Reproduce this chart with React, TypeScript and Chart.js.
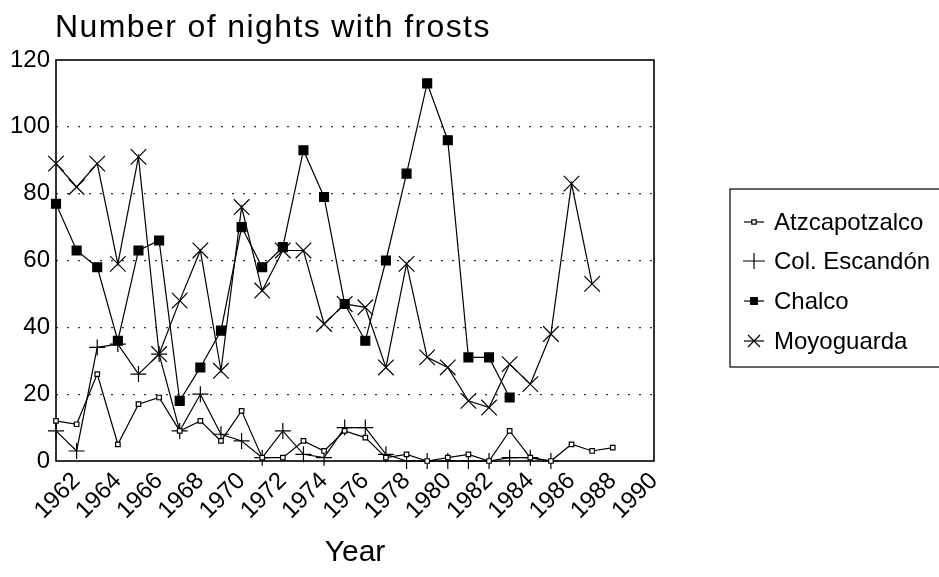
import { useEffect, useRef } from 'react';
import { Chart, registerables } from 'chart.js';

Chart.register(...registerables);

// ---- Data ----
const years = [
  1961, 1962, 1963, 1964, 1965, 1966, 1967, 1968, 1969, 1970,
  1971, 1972, 1973, 1974, 1975, 1976, 1977, 1978, 1979, 1980,
  1981, 1982, 1983, 1984, 1985, 1986, 1987, 1988,
];
const atzcapotzalco = [
  12, 11, 26, 5, 17, 19, 9, 12, 6, 15,
  1, 1, 6, 3, 9, 7, 1, 2, 0, 1,
  2, 0, 9, 1, 0, 5, 3, 4,
];
const colEscandon = [
  9, 3, 34, 35, 26, 32, 9, 20, 8, 6,
  1, 9, 2, 1, 10, 10, 2, 0, 0, 0,
  0, 0, 1, 1, 0, null, null, null,
];
const chalco = [
  77, 63, 58, 36, 63, 66, 18, 28, 39, 70,
  58, 64, 93, 79, 47, 36, 60, 86, 113, 96,
  31, 31, 19, null, null, null, null, null,
];
const moyoguarda = [
  89, 82, 89, 59, 91, 32, 48, 63, 27, 76,
  51, 63, 63, 41, 47, 46, 28, 59, 31, 28,
  18, 16, 29, 23, 38, 83, 53, null,
];
const seriesNames = ['Atzcapotzalco', 'Col. Escandón', 'Chalco', 'Moyoguarda'];
const xTickYears = [1962, 1964, 1966, 1968, 1970, 1972, 1974, 1976, 1978, 1980, 1982, 1984, 1986, 1988, 1990];
const yTickValues = [0, 20, 40, 60, 80, 100, 120];
const titleText = 'Number of nights with frosts';
const xAxisTitle = 'Year';

const FONT = "'Liberation Sans', Arial, Helvetica, sans-serif";

function toPoints(values: (number | null)[]) {
  const pts: { x: number; y: number }[] = [];
  years.forEach((yr, i) => {
    const v = values[i];
    if (v !== null && v !== undefined) pts.push({ x: yr, y: v });
  });
  return pts;
}

function drawMarker(ctx: CanvasRenderingContext2D, style: string, x: number, y: number, rx: number, ry: number, fill: string) {
  ctx.save();
  ctx.strokeStyle = '#000';
  ctx.lineWidth = 1.2;
  ctx.beginPath();
  if (style === 'rect') {
    ctx.fillStyle = fill;
    ctx.rect(x - rx, y - ry, 2 * rx, 2 * ry);
    ctx.fill();
    ctx.stroke();
  } else if (style === 'cross') {
    ctx.moveTo(x - rx, y);
    ctx.lineTo(x + rx, y);
    ctx.moveTo(x, y - ry);
    ctx.lineTo(x, y + ry);
    ctx.stroke();
  } else if (style === 'crossRot') {
    ctx.moveTo(x - rx, y - ry);
    ctx.lineTo(x + rx, y + ry);
    ctx.moveTo(x - rx, y + ry);
    ctx.lineTo(x + rx, y - ry);
    ctx.stroke();
  }
  ctx.restore();
}

const decorPlugin = {
  id: 'decor',
  beforeDatasetsDraw(chart: any) {
    const { ctx, chartArea } = chart;
    ctx.save();
    ctx.strokeStyle = '#000';
    ctx.lineWidth = 1.6;
    ctx.strokeRect(chartArea.left, chartArea.top, chartArea.right - chartArea.left, chartArea.bottom - chartArea.top);
    ctx.restore();
  },
  afterDraw(chart: any) {
    const { ctx } = chart;
    ctx.save();
    // Title
    ctx.fillStyle = '#000';
    ctx.font = `32px ${FONT}`;
    (ctx as any).letterSpacing = '1.4px';
    ctx.textBaseline = 'alphabetic';
    ctx.textAlign = 'left';
    ctx.fillText(titleText, 55, 37);
    (ctx as any).letterSpacing = '0px';

    // Legend box
    const lx = 730;
    const ly = 189;
    const lw = 240;
    const lh = 178;
    ctx.strokeStyle = '#000';
    ctx.lineWidth = 1.2;
    ctx.strokeRect(lx, ly, lw, lh);
    const rowY = [222, 261, 301, 341];
    const legendStyles = [
      { style: 'rect', rx: 2.2, ry: 2.2, fill: '#fff', line: true },
      { style: 'cross', rx: 11, ry: 8, fill: '#000', line: false },
      { style: 'rect', rx: 3.3, ry: 3.3, fill: '#000', line: true },
      { style: 'crossRot', rx: 6, ry: 6, fill: '#000', line: true },
    ];
    ctx.font = `24px ${FONT}`;
    ctx.textBaseline = 'middle';
    seriesNames.forEach((name, i) => {
      const y = rowY[i];
      const st = legendStyles[i];
      const cx = 754;
      if (st.line) {
        ctx.beginPath();
        ctx.strokeStyle = '#000';
        ctx.lineWidth = 1.2;
        ctx.moveTo(cx - 10, y);
        ctx.lineTo(cx + 10, y);
        ctx.stroke();
      }
      drawMarker(ctx, st.style, cx, y, st.rx, st.ry, st.fill);
      ctx.fillStyle = '#000';
      ctx.fillText(name, 774, y + 1);
    });
    ctx.restore();
  },
};

export default function App() {
  const canvasRef = useRef<HTMLCanvasElement | null>(null);

  useEffect(() => {
    const canvas = canvasRef.current;
    if (!canvas) return;
    const common = {
      borderColor: '#000',
      borderWidth: 1.2,
      pointBorderColor: '#000',
      pointBorderWidth: 1.2,
      tension: 0,
      fill: false,
      clip: false as any,
    };
    const chart = new Chart(canvas, {
      type: 'line',
      data: {
        datasets: [
          {
            ...common,
            label: seriesNames[0],
            data: toPoints(atzcapotzalco),
            pointStyle: 'rect',
            pointRadius: 3.2,
            pointBackgroundColor: '#fff',
          },
          {
            ...common,
            label: seriesNames[1],
            data: toPoints(colEscandon),
            pointStyle: 'cross',
            pointRadius: 8,
            pointBackgroundColor: '#000',
          },
          {
            ...common,
            label: seriesNames[2],
            data: toPoints(chalco),
            pointStyle: 'rect',
            pointRadius: 6.3,
            pointBackgroundColor: '#000',
          },
          {
            ...common,
            label: seriesNames[3],
            data: toPoints(moyoguarda),
            pointStyle: 'crossRot',
            pointRadius: 11,
            pointBackgroundColor: '#000',
          },
        ] as any,
      },
      options: {
        animation: false,
        responsive: false,
        devicePixelRatio: 1,
        layout: { padding: { left: 0, right: 285, top: 60, bottom: 0 } },
        plugins: {
          legend: { display: false },
          title: { display: false },
          tooltip: { enabled: false },
        },
        scales: {
          x: {
            type: 'linear',
            min: 1961,
            max: 1990,
            afterBuildTicks: (s: any) => {
              s.ticks = xTickYears.map((v) => ({ value: v }));
            },
            afterFit: (s: any) => {
              s.height = 116;
            },
            grid: { display: false, drawTicks: false },
            border: { display: false },
            ticks: {
              autoSkip: false,
              minRotation: 45,
              maxRotation: 45,
              padding: 6,
              color: '#000',
              font: { family: FONT, size: 24 },
              callback: (v: any) => String(v),
            },
            title: {
              display: true,
              text: xAxisTitle,
              color: '#000',
              font: { family: FONT, size: 30 },
              padding: { top: 0, bottom: 6 },
            },
          },
          y: {
            type: 'linear',
            min: 0,
            max: 120,
            afterBuildTicks: (s: any) => {
              s.ticks = yTickValues.map((v) => ({ value: v }));
            },
            afterFit: (s: any) => {
              s.width = 56;
            },
            border: { display: false, dash: [2, 9] },
            grid: {
              drawTicks: false,
              lineWidth: 1.2,
              color: (c: any) => (c.tick && (c.tick.value === 0 || c.tick.value === 120) ? 'rgba(0,0,0,0)' : '#333'),
            },
            ticks: {
              padding: 6,
              color: '#000',
              font: { family: FONT, size: 24 },
              callback: (v: any) => String(v),
            },
          },
        },
      } as any,
      plugins: [decorPlugin],
    });
    return () => {
      chart.destroy();
    };
  }, []);

  return (
    <div style={{ position: 'absolute', left: 0, top: 0, width: 939, height: 577, background: '#fff' }}>
      <canvas ref={canvasRef} width={939} height={577} style={{ display: 'block' }} />
    </div>
  );
}
